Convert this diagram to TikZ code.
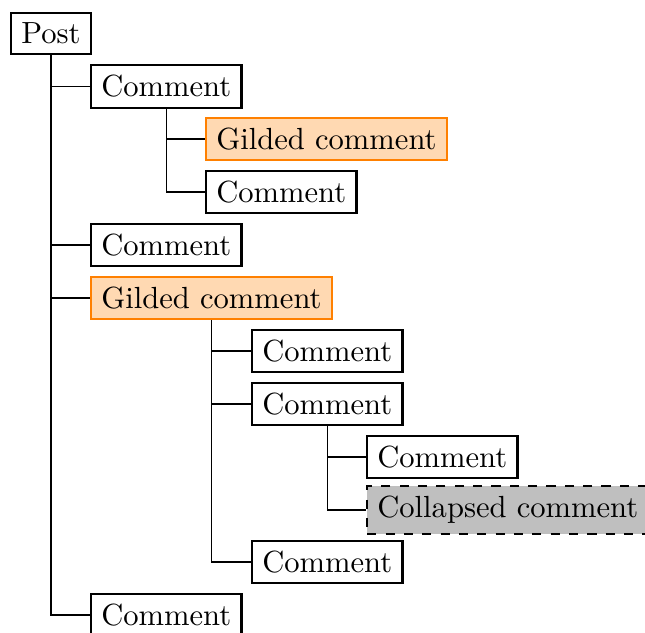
\documentclass[tikz,border=0pt]{standalone}
\usetikzlibrary{positioning}
\begin{document}
\begin{tikzpicture}[x=0.327pt,y=-0.327pt,
  box/.style={draw,line width=0.75pt,anchor=west,inner sep=0.333em,font=\fontsize{10pt}{12pt}\selectfont},
  gilded/.style={box,draw=orange,fill=orange!30},
  collapsed/.style={box,dashed,fill=black!25},
  conn/.style={line width=0.4pt}]
\clip (0,0) rectangle (645,632);
\useasboundingbox (0,0) rectangle (645,632);
\node[box] (post) at (10,33.5) {Post};
\node[box] (c1) at (90,86.5) {Comment};
\node[gilded] (g1) at (205,139) {Gilded comment};
\node[box] (c2) at (205,192) {Comment};
\node[box] (c3) at (90,245) {Comment};
\node[gilded] (g2) at (90,298) {Gilded comment};
\node[box] (c4) at (251,351) {Comment};
\node[box] (c5) at (251,404) {Comment};
\node[box] (c6) at (366,457) {Comment};
\node[collapsed] (col) at (366,510) {Collapsed comment};
\node[box] (c7) at (251,562) {Comment};
\node[box] (c8) at (90,615) {Comment};
\foreach \p/\c in {post/c1,post/c3,post/g2,post/c8,c1/g1,c1/c2,g2/c4,g2/c5,g2/c7,c5/c6,c5/col}
  \draw[conn] (\p.south) |- (\c.west);
\end{tikzpicture}
\end{document}
